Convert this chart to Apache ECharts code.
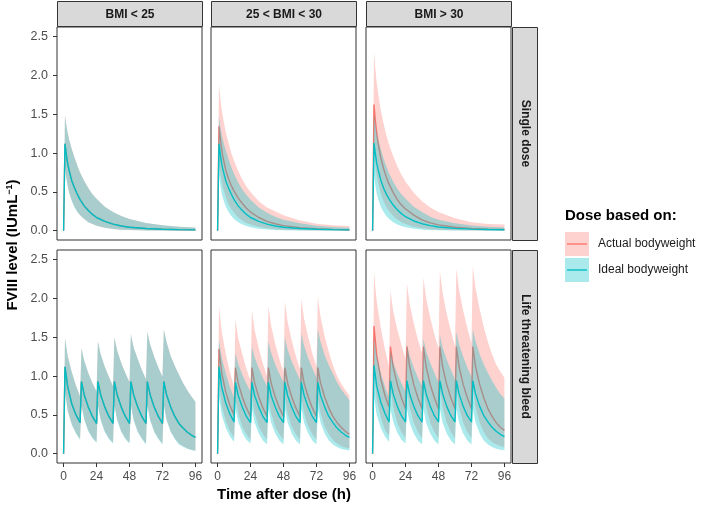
<!DOCTYPE html>
<html><head><meta charset="utf-8">
<script src="https://cdn.jsdelivr.net/npm/echarts@6/dist/echarts.min.js"></script>
<style>html,body{margin:0;padding:0;background:#fff}#c{width:709px;height:505px}</style>
</head><body><div id="c"></div><script>
// ---------- data ----------
const bmiGroups = ['BMI < 25', '25 < BMI < 30', 'BMI > 30'];
const regimens = ['Single dose', 'Life threatening bleed'];
const doseBasis = ['Actual bodyweight', 'Ideal bodyweight'];
const xTicks = [0, 24, 48, 72, 96];
const xTickLabels = ['0', '24', '48', '72', '96'];
const yTicks = [0, 0.5, 1, 1.5, 2, 2.5];
const yTickLabels = ['0.0', '0.5', '1.0', '1.5', '2.0', '2.5'];

const timeSingle = [0,1,2,3,4,6,8,10,12,15,18,21,24,30,36,42,48,60,72,84,96];
const timeBleed = [0, 1,3,6,9,12, 13,15,18,21,24, 25,27,30,33,36, 37,39,42,45,48, 49,51,54,57,60, 61,63,66,69,72, 73,75,78,81,84,87,90,93,96];

// Single dose, BMI < 25
const single_lt25_ideal_med = [0,1.12,0.98,0.86,0.78,0.64,0.55,0.47,0.40,0.32,0.26,0.21,0.17,0.12,0.085,0.06,0.045,0.028,0.019,0.014,0.011];
const single_lt25_ideal_hi  = [0,1.49,1.36,1.26,1.18,1.05,0.94,0.84,0.75,0.64,0.55,0.47,0.41,0.31,0.24,0.19,0.15,0.10,0.07,0.05,0.04];
const single_lt25_ideal_lo  = [0,0.82,0.68,0.57,0.49,0.38,0.30,0.24,0.20,0.15,0.11,0.085,0.065,0.038,0.022,0.013,0.008,0.003,0.001,0,0];
const single_lt25_actual_med = [0,1.12,0.98,0.86,0.78,0.64,0.55,0.47,0.40,0.32,0.26,0.21,0.17,0.12,0.085,0.06,0.045,0.028,0.019,0.014,0.011];
const single_lt25_actual_hi  = [0,1.49,1.36,1.26,1.18,1.05,0.94,0.84,0.75,0.64,0.55,0.47,0.41,0.31,0.24,0.19,0.15,0.10,0.07,0.05,0.04];
const single_lt25_actual_lo  = [0,0.83,0.69,0.58,0.50,0.39,0.31,0.25,0.20,0.15,0.11,0.085,0.065,0.038,0.022,0.013,0.008,0.003,0.001,0,0];

// Single dose, 25 < BMI < 30
const single_25to30_ideal_med = [0,1.12,0.98,0.86,0.78,0.64,0.55,0.47,0.40,0.32,0.26,0.21,0.17,0.12,0.085,0.06,0.045,0.028,0.019,0.014,0.011];
const single_25to30_ideal_hi  = [0,1.47,1.34,1.24,1.16,1.03,0.92,0.82,0.73,0.62,0.53,0.46,0.40,0.30,0.23,0.18,0.14,0.095,0.065,0.048,0.038];
const single_25to30_ideal_lo  = [0,0.72,0.58,0.48,0.41,0.31,0.24,0.19,0.15,0.11,0.08,0.06,0.045,0.026,0.015,0.009,0.005,0.002,0.001,0,0];
const single_25to30_actual_med = [0,1.345,1.18,1.04,0.94,0.78,0.67,0.58,0.51,0.42,0.35,0.29,0.24,0.17,0.12,0.09,0.065,0.04,0.025,0.017,0.013];
const single_25to30_actual_hi  = [0,1.88,1.70,1.56,1.45,1.27,1.13,1.00,0.90,0.77,0.66,0.57,0.50,0.38,0.30,0.25,0.20,0.13,0.09,0.07,0.06];
const single_25to30_actual_lo  = [0,0.90,0.74,0.63,0.55,0.43,0.34,0.28,0.23,0.17,0.13,0.10,0.08,0.05,0.03,0.018,0.011,0.005,0.002,0.001,0];

// Single dose, BMI > 30
const single_gt30_ideal_med = [0,1.13,0.99,0.87,0.79,0.65,0.55,0.47,0.41,0.33,0.27,0.22,0.18,0.125,0.09,0.065,0.048,0.03,0.02,0.015,0.012];
const single_gt30_ideal_hi  = [0,1.50,1.37,1.26,1.18,1.05,0.93,0.83,0.74,0.63,0.54,0.47,0.41,0.31,0.24,0.18,0.14,0.095,0.066,0.05,0.04];
const single_gt30_ideal_lo  = [0,0.72,0.58,0.48,0.41,0.31,0.24,0.19,0.15,0.11,0.08,0.06,0.045,0.026,0.015,0.009,0.005,0.002,0.001,0,0];
const single_gt30_actual_med = [0,1.625,1.42,1.26,1.13,0.94,0.80,0.69,0.60,0.49,0.40,0.33,0.28,0.20,0.14,0.10,0.075,0.045,0.03,0.02,0.015];
const single_gt30_actual_hi  = [0,2.31,2.09,1.91,1.77,1.55,1.38,1.23,1.11,0.96,0.83,0.72,0.63,0.49,0.38,0.30,0.24,0.16,0.11,0.085,0.08];
const single_gt30_actual_lo  = [0,1.02,0.84,0.71,0.62,0.48,0.38,0.31,0.25,0.19,0.145,0.11,0.085,0.05,0.03,0.018,0.011,0.005,0.002,0.001,0];

// Life threatening bleed, BMI < 25
const bleed_lt25_ideal_med = [0, 1.12,0.86,0.64,0.50,0.40, 0.93,0.76,0.60,0.48,0.39, 0.93,0.76,0.60,0.48,0.39, 0.93,0.76,0.60,0.48,0.39, 0.93,0.76,0.60,0.48,0.39, 0.93,0.76,0.60,0.48,0.39, 0.93,0.76,0.60,0.48,0.39,0.33,0.28,0.24,0.21];
const bleed_lt25_ideal_hi  = [0, 1.49,1.26,1.05,0.88,0.74, 1.36,1.20,1.04,0.91,0.80, 1.45,1.28,1.12,0.99,0.87, 1.50,1.33,1.17,1.04,0.92, 1.54,1.37,1.22,1.08,0.96, 1.57,1.41,1.25,1.11,0.99, 1.60,1.44,1.26,1.13,1.02,0.91,0.82,0.74,0.67];
const bleed_lt25_ideal_lo  = [0, 0.80,0.55,0.37,0.26,0.18, 0.62,0.44,0.29,0.20,0.14, 0.62,0.43,0.28,0.19,0.13, 0.62,0.43,0.28,0.19,0.13, 0.62,0.43,0.28,0.19,0.12, 0.62,0.43,0.28,0.19,0.12, 0.62,0.43,0.28,0.19,0.12,0.09,0.065,0.048,0.035];
const bleed_lt25_actual_med = [0, 1.12,0.86,0.64,0.50,0.40, 0.93,0.76,0.60,0.48,0.39, 0.93,0.76,0.60,0.48,0.39, 0.93,0.76,0.60,0.48,0.39, 0.93,0.76,0.60,0.48,0.39, 0.93,0.76,0.60,0.48,0.39, 0.93,0.76,0.60,0.48,0.39,0.33,0.28,0.24,0.21];
const bleed_lt25_actual_hi  = [0, 1.49,1.26,1.05,0.88,0.74, 1.36,1.20,1.04,0.91,0.80, 1.45,1.28,1.12,0.99,0.87, 1.50,1.33,1.17,1.04,0.92, 1.54,1.37,1.22,1.08,0.96, 1.57,1.41,1.25,1.11,0.99, 1.60,1.44,1.26,1.13,1.02,0.91,0.82,0.74,0.67];
const bleed_lt25_actual_lo  = [0, 0.81,0.56,0.38,0.27,0.19, 0.63,0.45,0.30,0.21,0.15, 0.63,0.44,0.29,0.20,0.14, 0.63,0.44,0.29,0.20,0.14, 0.63,0.44,0.29,0.20,0.13, 0.63,0.44,0.29,0.20,0.13, 0.63,0.44,0.29,0.20,0.13,0.10,0.07,0.05,0.04];

// Life threatening bleed, 25 < BMI < 30
const bleed_25to30_ideal_med = [0, 1.12,0.86,0.65,0.51,0.41, 0.92,0.75,0.60,0.48,0.40, 0.92,0.75,0.60,0.48,0.40, 0.92,0.75,0.60,0.48,0.40, 0.92,0.75,0.60,0.48,0.40, 0.92,0.75,0.60,0.48,0.40, 0.92,0.75,0.60,0.48,0.40,0.33,0.28,0.24,0.21];
const bleed_25to30_ideal_hi  = [0, 1.47,1.24,1.03,0.86,0.72, 1.30,1.16,1.02,0.90,0.80, 1.38,1.24,1.10,0.98,0.87, 1.45,1.30,1.15,1.03,0.92, 1.50,1.34,1.19,1.07,0.95, 1.55,1.39,1.23,1.10,0.98, 1.60,1.44,1.27,1.14,1.03,0.92,0.83,0.76,0.69];
const bleed_25to30_ideal_lo  = [0, 0.74,0.50,0.33,0.22,0.15, 0.58,0.41,0.27,0.18,0.13, 0.58,0.40,0.26,0.17,0.12, 0.58,0.40,0.26,0.17,0.12, 0.58,0.40,0.26,0.17,0.12, 0.58,0.40,0.26,0.17,0.12, 0.58,0.40,0.26,0.17,0.12,0.085,0.06,0.05,0.04];
const bleed_25to30_actual_med = [0, 1.35,1.04,0.79,0.62,0.50, 1.11,0.91,0.73,0.59,0.48, 1.11,0.91,0.73,0.59,0.48, 1.11,0.91,0.73,0.59,0.48, 1.11,0.91,0.73,0.59,0.48, 1.11,0.91,0.73,0.59,0.48, 1.11,0.91,0.73,0.59,0.48,0.40,0.34,0.29,0.25];
const bleed_25to30_actual_hi  = [0, 1.90,1.57,1.28,1.05,0.86, 1.73,1.49,1.28,1.09,0.94, 1.84,1.59,1.36,1.16,1.00, 1.90,1.65,1.41,1.22,1.05, 1.96,1.70,1.46,1.26,1.09, 2.00,1.74,1.50,1.29,1.12, 2.02,1.76,1.51,1.31,1.14,1.00,0.90,0.82,0.75];
const bleed_25to30_actual_lo  = [0, 0.90,0.62,0.42,0.29,0.21, 0.72,0.52,0.35,0.25,0.18, 0.72,0.52,0.35,0.25,0.18, 0.72,0.52,0.35,0.25,0.18, 0.72,0.52,0.35,0.25,0.18, 0.72,0.52,0.35,0.25,0.18, 0.72,0.52,0.35,0.25,0.18,0.13,0.10,0.08,0.07];

// Life threatening bleed, BMI > 30
const bleed_gt30_ideal_med = [0, 1.14,0.87,0.66,0.52,0.41, 0.94,0.77,0.61,0.49,0.41, 0.94,0.77,0.61,0.49,0.41, 0.94,0.77,0.61,0.49,0.41, 0.94,0.77,0.61,0.49,0.41, 0.94,0.77,0.61,0.49,0.41, 0.94,0.77,0.61,0.49,0.41,0.34,0.29,0.25,0.22];
const bleed_gt30_ideal_hi  = [0, 1.50,1.26,1.04,0.87,0.72, 1.33,1.18,1.03,0.91,0.80, 1.41,1.26,1.11,0.98,0.87, 1.48,1.32,1.17,1.04,0.92, 1.53,1.37,1.21,1.08,0.96, 1.57,1.41,1.25,1.11,0.99, 1.60,1.45,1.28,1.15,1.04,0.94,0.85,0.77,0.71];
const bleed_gt30_ideal_lo  = [0, 0.74,0.50,0.33,0.22,0.15, 0.58,0.41,0.27,0.18,0.13, 0.58,0.40,0.26,0.17,0.12, 0.58,0.40,0.26,0.17,0.12, 0.58,0.40,0.26,0.17,0.12, 0.58,0.40,0.26,0.17,0.12, 0.58,0.40,0.26,0.17,0.12,0.085,0.065,0.05,0.045];
const bleed_gt30_actual_med = [0, 1.645,1.27,0.96,0.75,0.60, 1.38,1.12,0.89,0.72,0.58, 1.38,1.12,0.89,0.72,0.58, 1.38,1.12,0.89,0.72,0.58, 1.38,1.12,0.89,0.72,0.58, 1.38,1.12,0.89,0.72,0.58, 1.38,1.12,0.89,0.72,0.58,0.48,0.40,0.34,0.30];
const bleed_gt30_actual_hi  = [0, 2.34,1.96,1.62,1.35,1.12, 2.10,1.84,1.60,1.40,1.22, 2.19,1.93,1.68,1.47,1.29, 2.27,2.00,1.75,1.54,1.35, 2.35,2.07,1.80,1.58,1.38, 2.39,2.11,1.84,1.62,1.42, 2.42,2.13,1.86,1.63,1.44,1.28,1.15,1.06,0.98];
const bleed_gt30_actual_lo  = [0, 1.05,0.70,0.46,0.31,0.23, 0.85,0.60,0.40,0.28,0.20, 0.85,0.60,0.40,0.28,0.20, 0.85,0.60,0.40,0.28,0.20, 0.85,0.60,0.40,0.28,0.20, 0.85,0.60,0.40,0.28,0.20, 0.85,0.60,0.40,0.28,0.20,0.15,0.12,0.10,0.085];

// ---------- panel assembly ----------
const panels = [
  {row:0, col:0, t:timeSingle, a:[single_lt25_actual_lo, single_lt25_actual_med, single_lt25_actual_hi], i:[single_lt25_ideal_lo, single_lt25_ideal_med, single_lt25_ideal_hi]},
  {row:0, col:1, t:timeSingle, a:[single_25to30_actual_lo, single_25to30_actual_med, single_25to30_actual_hi], i:[single_25to30_ideal_lo, single_25to30_ideal_med, single_25to30_ideal_hi]},
  {row:0, col:2, t:timeSingle, a:[single_gt30_actual_lo, single_gt30_actual_med, single_gt30_actual_hi], i:[single_gt30_ideal_lo, single_gt30_ideal_med, single_gt30_ideal_hi]},
  {row:1, col:0, t:timeBleed, a:[bleed_lt25_actual_lo, bleed_lt25_actual_med, bleed_lt25_actual_hi], i:[bleed_lt25_ideal_lo, bleed_lt25_ideal_med, bleed_lt25_ideal_hi]},
  {row:1, col:1, t:timeBleed, a:[bleed_25to30_actual_lo, bleed_25to30_actual_med, bleed_25to30_actual_hi], i:[bleed_25to30_ideal_lo, bleed_25to30_ideal_med, bleed_25to30_ideal_hi]},
  {row:1, col:2, t:timeBleed, a:[bleed_gt30_actual_lo, bleed_gt30_actual_med, bleed_gt30_actual_hi], i:[bleed_gt30_ideal_lo, bleed_gt30_ideal_med, bleed_gt30_ideal_hi]}
];

const FONT = '"Liberation Sans", Arial, Helvetica, sans-serif';
const RED = '#F8766D', TEAL = '#00BFC4';
const RED_FILL = 'rgba(248,118,109,0.33)', TEAL_FILL = 'rgba(0,191,196,0.33)';
const colLeft = [57, 211, 366], rowTop = [27, 250], PW = 145, PH = 213;

const grids = [], xAxes = [], yAxes = [], series = [];

function ribbonRenderer(xs, lo, hi, fill) {
  return function (params, api) {
    if (params.dataIndex !== 0) return null;
    const pts = [];
    for (let k = 0; k < xs.length; k++) pts.push(api.coord([xs[k], hi[k]]));
    for (let k = xs.length - 1; k >= 0; k--) pts.push(api.coord([xs[k], lo[k]]));
    return { type: 'polygon', shape: { points: pts }, style: { fill: fill } };
  };
}

panels.forEach((p, idx) => {
  grids.push({ left: colLeft[p.col], top: rowTop[p.row], width: PW, height: PH, show: true, borderColor: '#333', borderWidth: 1, backgroundColor: '#fff' });
  const showX = p.row === 1, showY = p.col === 0;
  xAxes.push({
    type: 'value', gridIndex: idx, min: -4.8, max: 100.8, position: 'bottom',
    axisLine: { show: false, onZero: false }, splitLine: { show: false },
    axisTick: { show: showX, inside: false, length: 4, lineStyle: { color: '#333' }, customValues: xTicks },
    axisLabel: { show: showX, customValues: xTicks, color: '#4D4D4D', fontSize: 12, fontFamily: FONT, margin: 8,
      formatter: v => xTickLabels[xTicks.indexOf(v)] }
  });
  yAxes.push({
    type: 'value', gridIndex: idx, min: -0.12, max: 2.625, position: 'left',
    axisLine: { show: false, onZero: false }, splitLine: { show: false },
    axisTick: { show: showY, inside: false, length: 4, lineStyle: { color: '#333' }, customValues: yTicks },
    axisLabel: { show: showY, customValues: yTicks, color: '#4D4D4D', fontSize: 12.5, fontFamily: FONT, margin: 9,
      formatter: v => yTickLabels[yTicks.indexOf(v)] }
  });
  let z = 1;
  const mk = (arr, fill, color, name) => {
    const [lo, med, hi] = arr;
    series.push({
      type: 'custom', name: name, xAxisIndex: idx, yAxisIndex: idx, silent: true, z: z++,
      data: p.t.map((t, k) => [t, lo[k], hi[k]]), encode: { x: 0, y: [1, 2] },
      renderItem: ribbonRenderer(p.t, lo, hi, fill)
    });
    series.push({
      type: 'line', name: name, xAxisIndex: idx, yAxisIndex: idx, silent: true, z: z++,
      data: p.t.map((t, k) => [t, med[k]]), showSymbol: false,
      lineStyle: { color: color, width: 1.4 }, itemStyle: { color: color }
    });
  };
  mk(p.a, RED_FILL, RED, doseBasis[0]);
  mk(p.i, TEAL_FILL, TEAL, doseBasis[1]);
});

// ---------- strips, titles, legend ----------
const graphic = [];
bmiGroups.forEach((g, c) => {
  graphic.push({ type: 'rect', shape: { x: colLeft[c] + 0.5, y: 1.5, width: PW, height: 25 }, style: { fill: '#D9D9D9', stroke: '#333', lineWidth: 1 } });
  graphic.push({ type: 'text', x: colLeft[c] + PW / 2 + 0.5, y: 14.5, style: { text: g, font: 'bold 12px ' + FONT, fill: '#1A1A1A', align: 'center', verticalAlign: 'middle', textAlign: 'center', textVerticalAlign: 'middle' } });
});
regimens.forEach((r, rr) => {
  graphic.push({ type: 'rect', shape: { x: 512.5, y: rowTop[rr] + 0.5, width: 25, height: PH }, style: { fill: '#D9D9D9', stroke: '#333', lineWidth: 1 } });
  graphic.push({ type: 'text', x: 525, y: rowTop[rr] + PH / 2, rotation: -Math.PI / 2, style: { text: r, font: 'bold 12px ' + FONT, fill: '#1A1A1A', align: 'center', verticalAlign: 'middle', textAlign: 'center', textVerticalAlign: 'middle' } });
});
graphic.push({ type: 'text', x: 284, y: 495, style: { text: 'Time after dose (h)', font: 'bold 15px ' + FONT, fill: '#000', align: 'center', verticalAlign: 'middle', textAlign: 'center', textVerticalAlign: 'middle' } });
graphic.push({ type: 'text', x: 13, y: 245, rotation: Math.PI / 2, style: {
  text: '{a|FVIII level (IUmL}{s|−1}{a|)}',
  rich: { a: { font: 'bold 15px ' + FONT, fill: '#000', verticalAlign: 'bottom' }, s: { font: 'bold 9px ' + FONT, fill: '#000', verticalAlign: 'top' } },
  align: 'center', verticalAlign: 'middle', textAlign: 'center', textVerticalAlign: 'middle' } });
graphic.push({ type: 'text', x: 565, y: 216, style: { text: 'Dose based on:', font: 'bold 15px ' + FONT, fill: '#000', align: 'left', verticalAlign: 'middle', textAlign: 'left', textVerticalAlign: 'middle' } });
const keyFill = [RED_FILL, TEAL_FILL], keyLine = [RED, TEAL], keyTop = [232, 258];
doseBasis.forEach((d, k) => {
  graphic.push({ type: 'rect', shape: { x: 565, y: keyTop[k], width: 24, height: 24 }, style: { fill: keyFill[k] } });
  graphic.push({ type: 'line', shape: { x1: 567, y1: keyTop[k] + 12, x2: 587, y2: keyTop[k] + 12 }, style: { stroke: keyLine[k], lineWidth: 1.4 } });
  graphic.push({ type: 'text', x: 598, y: keyTop[k] + 12, style: { text: d, font: '12px ' + FONT, fill: '#1A1A1A', align: 'left', verticalAlign: 'middle', textAlign: 'left', textVerticalAlign: 'middle' } });
});

const chart = echarts.init(document.getElementById('c'), null, { renderer: 'canvas' });
chart.setOption({
  animation: false,
  backgroundColor: '#fff',
  grid: grids, xAxis: xAxes, yAxis: yAxes, series: series, graphic: graphic
});
</script></body></html>
